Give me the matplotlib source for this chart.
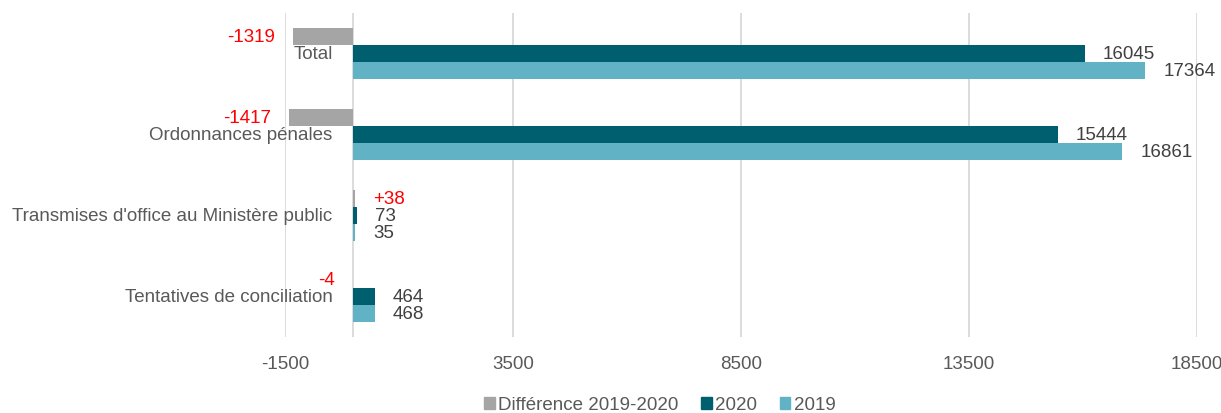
import matplotlib
matplotlib.use("Agg")
import matplotlib.pyplot as plt
from matplotlib.patches import Patch
import numpy as np

plt.rcParams['font.family'] = ['Liberation Sans', 'DejaVu Sans']

categories = ["Total", "Ordonnances pénales", "Transmises d'office au Ministère public", "Tentatives de conciliation"]
diff = [-1319, -1417, 38, -4]
diff_labels = ["-1319", "-1417", "+38", "-4"]
v2020 = [16045, 15444, 73, 464]
v2019 = [17364, 16861, 35, 468]
xticks = [-1500, 3500, 8500, 13500, 18500]

c_diff = "#A5A5A5"
c_2020 = "#005F6E"
c_2019 = "#62B2C5"
txt = "#595959"
valc = "#404040"

fig = plt.figure(figsize=(12.21, 4.14), dpi=100)
ax = fig.add_axes([285/1221, 1-338/414, 912/1221, 324/414])

y = np.arange(len(categories))
h = 17/81

ax.barh(y - h, diff, height=h, color=c_diff, zorder=3)
ax.barh(y, v2020, height=h, color=c_2020, zorder=3)
ax.barh(y + h, v2019, height=h, color=c_2019, zorder=3)

fs = 13.5
pad = 13
for i in range(len(categories)):
    d = diff[i]
    if d < 0:
        ax.annotate(diff_labels[i], (d, y[i] - h), xytext=(-pad, 0), textcoords='offset points',
                    ha='right', va='center', color='red', fontsize=fs)
    else:
        ax.annotate(diff_labels[i], (d, y[i] - h), xytext=(pad, 0), textcoords='offset points',
                    ha='left', va='center', color='red', fontsize=fs)
    ax.annotate(str(v2020[i]), (v2020[i], y[i]), xytext=(pad, 0), textcoords='offset points',
                ha='left', va='center', color=valc, fontsize=fs)
    ax.annotate(str(v2019[i]), (v2019[i], y[i] + h), xytext=(pad, 0), textcoords='offset points',
                ha='left', va='center', color=valc, fontsize=fs)
    ax.annotate(categories[i], (0, y[i]), xytext=(-15, 0), textcoords='offset points',
                ha='right', va='center', color=txt, fontsize=fs, annotation_clip=False)

ax.set_xlim(-1500, 18500)
ax.set_ylim(3.5, -0.5)
ax.set_xticks(xticks)
ax.set_xticklabels([str(t) for t in xticks])
ax.set_yticks([])
ax.tick_params(axis='x', length=0, pad=13, labelsize=fs, labelcolor=txt)
for s in ax.spines.values():
    s.set_visible(False)
ax.grid(axis='x', color='#D9D9D9', linewidth=1.3, zorder=0)
ax.axvline(0, color='#D9D9D9', linewidth=1.3, zorder=1)

handles = [Patch(color=c_diff, label="Différence 2019-2020"),
           Patch(color=c_2020, label="2020"),
           Patch(color=c_2019, label="2019")]
fig.legend(handles=handles, loc='center', bbox_to_anchor=(660/1221, 1-406/414), ncol=3,
           frameon=False, fontsize=fs, labelcolor=txt, handlelength=0.55, handleheight=0.55,
           handletextpad=0.2, columnspacing=1.2, borderpad=0)

fig.savefig("out.png", dpi=100)
